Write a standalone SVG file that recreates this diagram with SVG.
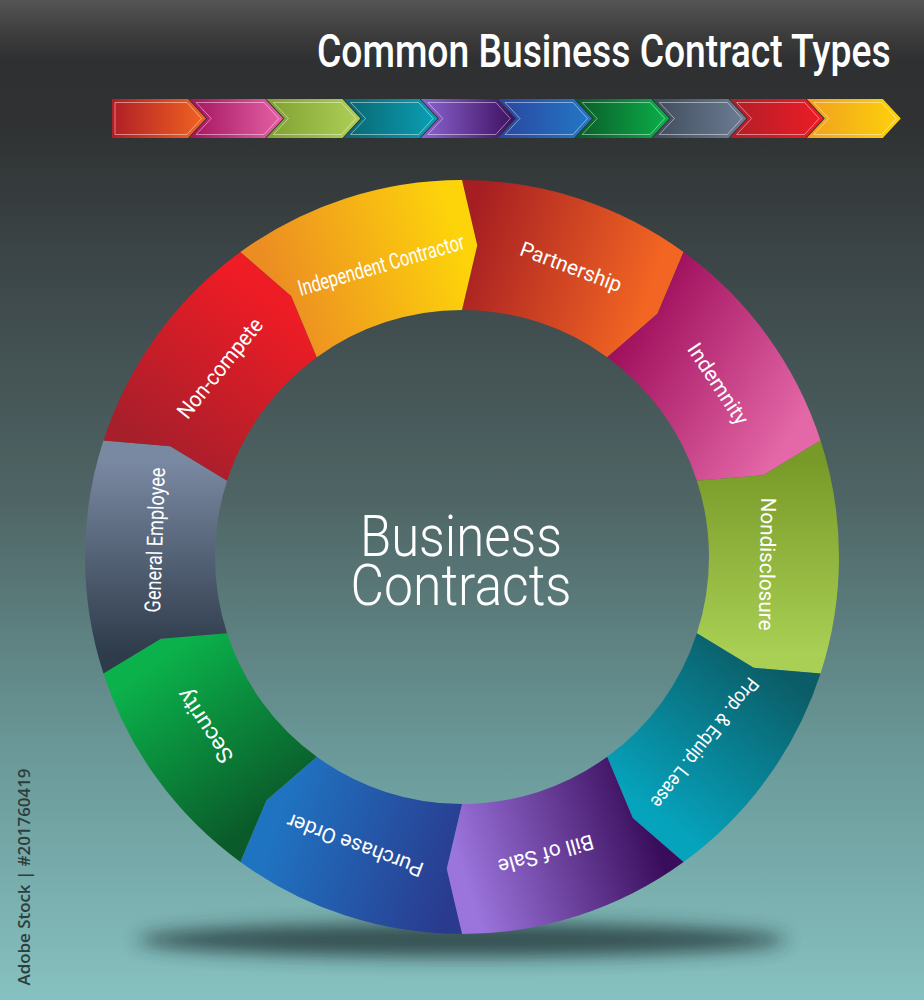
<svg xmlns="http://www.w3.org/2000/svg" width="924" height="1000" viewBox="0 0 924 1000">
<defs>
<linearGradient id="bg" x1="0" y1="0" x2="0" y2="1">
<stop offset="0" stop-color="#555555"/>
<stop offset="0.035" stop-color="#3c3c3c"/>
<stop offset="0.06" stop-color="#2f3031"/>
<stop offset="0.12" stop-color="#2f3132"/>
<stop offset="0.25" stop-color="#3b4446"/>
<stop offset="0.5" stop-color="#4f6565"/>
<stop offset="0.75" stop-color="#6a9898"/>
<stop offset="1" stop-color="#86c1c0"/>
</linearGradient>
<filter id="blur" x="-20%" y="-200%" width="140%" height="500%"><feGaussianBlur stdDeviation="9"/></filter>
<linearGradient id="s0"><stop offset="0" stop-color="#b01e25"/><stop offset="1" stop-color="#f26522"/></linearGradient>
<linearGradient id="s1"><stop offset="0" stop-color="#a3135e"/><stop offset="1" stop-color="#e462a6"/></linearGradient>
<linearGradient id="s2"><stop offset="0" stop-color="#7fa030"/><stop offset="1" stop-color="#aed057"/></linearGradient>
<linearGradient id="s3"><stop offset="0" stop-color="#0a6570"/><stop offset="1" stop-color="#0aa0b5"/></linearGradient>
<linearGradient id="s4"><stop offset="0" stop-color="#8c64d0"/><stop offset="1" stop-color="#3d1060"/></linearGradient>
<linearGradient id="s5"><stop offset="0" stop-color="#2a45a0"/><stop offset="1" stop-color="#2378c6"/></linearGradient>
<linearGradient id="s6"><stop offset="0" stop-color="#0a5a28"/><stop offset="1" stop-color="#0bb04a"/></linearGradient>
<linearGradient id="s7"><stop offset="0" stop-color="#3e4c5c"/><stop offset="1" stop-color="#6d7d94"/></linearGradient>
<linearGradient id="s8"><stop offset="0" stop-color="#b01e28"/><stop offset="1" stop-color="#ee1c25"/></linearGradient>
<linearGradient id="s9"><stop offset="0" stop-color="#f0a020"/><stop offset="1" stop-color="#fdd20a"/></linearGradient>
<linearGradient id="g0" gradientUnits="userSpaceOnUse" x1="462" y1="245" x2="645.39" y2="304.59"><stop offset="0" stop-color="#a61e22"/><stop offset="1" stop-color="#f26522"/></linearGradient>
<linearGradient id="g1" gradientUnits="userSpaceOnUse" x1="620" y1="330" x2="790" y2="440"><stop offset="0" stop-color="#9e0d5a"/><stop offset="1" stop-color="#e468a8"/></linearGradient>
<linearGradient id="g2" gradientUnits="userSpaceOnUse" x1="758.73" y1="460.59" x2="758.73" y2="653.41"><stop offset="0" stop-color="#789a28"/><stop offset="1" stop-color="#a9cf54"/></linearGradient>
<linearGradient id="g3" gradientUnits="userSpaceOnUse" x1="758.73" y1="653.41" x2="645.39" y2="809.41"><stop offset="0" stop-color="#0b5c66"/><stop offset="1" stop-color="#06a3bd"/></linearGradient>
<linearGradient id="g4" gradientUnits="userSpaceOnUse" x1="645.39" y1="809.41" x2="462" y2="869"><stop offset="0" stop-color="#3a0d5c"/><stop offset="1" stop-color="#9b74dc"/></linearGradient>
<linearGradient id="g5" gradientUnits="userSpaceOnUse" x1="462" y1="869" x2="278.61" y2="809.41"><stop offset="0" stop-color="#2a3a8e"/><stop offset="1" stop-color="#1f74c2"/></linearGradient>
<linearGradient id="g6" gradientUnits="userSpaceOnUse" x1="278.61" y1="809.41" x2="165.27" y2="653.41"><stop offset="0" stop-color="#0a5a2a"/><stop offset="1" stop-color="#0bb24b"/></linearGradient>
<linearGradient id="g7" gradientUnits="userSpaceOnUse" x1="165.27" y1="653.41" x2="165.27" y2="460.59"><stop offset="0" stop-color="#2e3b4a"/><stop offset="1" stop-color="#7a89a2"/></linearGradient>
<linearGradient id="g8" gradientUnits="userSpaceOnUse" x1="165.27" y1="460.59" x2="278.61" y2="304.59"><stop offset="0" stop-color="#a61f2b"/><stop offset="1" stop-color="#ee1c25"/></linearGradient>
<linearGradient id="g9" gradientUnits="userSpaceOnUse" x1="278.61" y1="304.59" x2="462" y2="245"><stop offset="0" stop-color="#ec8d23"/><stop offset="1" stop-color="#fdd40a"/></linearGradient>
<path id="chevA" d="M0,99 H76 L94,118.5 L76,138 H0 Z"/>
<path id="chevB" d="M0,99 H76 L94,118.5 L76,138 H0 L18,118.5 Z"/>
</defs>
<style>
.lbl{font-family:Roboto,"Liberation Sans",sans-serif;fill:#ffffff;text-anchor:middle;dominant-baseline:central;}
.out{fill:none;stroke:#ffffff;stroke-opacity:0.45;stroke-width:1;}
.title{font-family:Roboto,"Liberation Sans",sans-serif;font-weight:500;fill:#ffffff;font-size:46px;}
.center{font-family:Roboto,"Liberation Sans",sans-serif;font-weight:300;fill:#ffffff;font-size:57px;text-anchor:middle;}
</style>

<rect x="0" y="0" width="924" height="1000" fill="url(#bg)"/>

<g id="title">
<text class="title" transform="translate(317,67) scale(0.81,1)" x="0" y="0">Common Business Contract Types</text>
</g>

<g id="strip">
<g transform="translate(112,0)"><use href="#chevA" fill="url(#s0)"/><path class="out" d="M3,102.5 H75 L89.5,118.5 L75,134.5 H3 Z"/></g>
<g transform="translate(189.2,0)"><use href="#chevB" fill="url(#s1)"/><path class="out" d="M7,102.5 H75 L89.5,118.5 L75,134.5 H7 L22,118.5 Z"/></g>
<g transform="translate(266.4,0)"><use href="#chevB" fill="url(#s2)"/><path class="out" d="M7,102.5 H75 L89.5,118.5 L75,134.5 H7 L22,118.5 Z"/></g>
<g transform="translate(343.6,0)"><use href="#chevB" fill="url(#s3)"/><path class="out" d="M7,102.5 H75 L89.5,118.5 L75,134.5 H7 L22,118.5 Z"/></g>
<g transform="translate(420.8,0)"><use href="#chevB" fill="url(#s4)"/><path class="out" d="M7,102.5 H75 L89.5,118.5 L75,134.5 H7 L22,118.5 Z"/></g>
<g transform="translate(498,0)"><use href="#chevB" fill="url(#s5)"/><path class="out" d="M7,102.5 H75 L89.5,118.5 L75,134.5 H7 L22,118.5 Z"/></g>
<g transform="translate(575.2,0)"><use href="#chevB" fill="url(#s6)"/><path class="out" d="M7,102.5 H75 L89.5,118.5 L75,134.5 H7 L22,118.5 Z"/></g>
<g transform="translate(652.4,0)"><use href="#chevB" fill="url(#s7)"/><path class="out" d="M7,102.5 H75 L89.5,118.5 L75,134.5 H7 L22,118.5 Z"/></g>
<g transform="translate(729.6,0)"><use href="#chevB" fill="url(#s8)"/><path class="out" d="M7,102.5 H75 L89.5,118.5 L75,134.5 H7 L22,118.5 Z"/></g>
<g transform="translate(806.8,0)"><use href="#chevB" fill="url(#s9)"/><path class="out" d="M7,102.5 H75 L89.5,118.5 L75,134.5 H7 L22,118.5 Z"/></g>
</g>

<ellipse cx="462" cy="940" rx="325" ry="17" fill="#1d2f30" opacity="0.75" filter="url(#blur)"/>

<g id="connectors"></g>

<g id="seg-partnership">
<path fill="url(#g0)" d="M462,180 A377,377 0 0 1 683.59,252 L657.5,313.85 L607.18,357.17 A247,247 0 0 0 462,310 L477.24,245.37 Z"/>
<text class="lbl" font-size="21" transform="translate(571,267) rotate(20.5)" textLength="107" lengthAdjust="spacingAndGlyphs">Partnership</text>
</g>
<g id="seg-indemnity">
<path fill="url(#g1)" d="M683.59,252 A377,377 0 0 1 820.55,440.5 L763.09,475.2 L696.91,480.67 A247,247 0 0 0 607.18,357.17 L657.5,313.85 Z"/>
<text class="lbl" font-size="21" transform="translate(718,384) rotate(56.5)" textLength="93" lengthAdjust="spacingAndGlyphs">Indemnity</text>
</g>
<g id="seg-nondisclosure">
<path fill="url(#g2)" d="M820.55,440.5 A377,377 0 0 1 820.55,673.5 L753.67,667.79 L696.91,633.33 A247,247 0 0 0 696.91,480.67 L763.09,475.2 Z"/>
<text class="lbl" font-size="21" transform="translate(767,564) rotate(91)" textLength="133" lengthAdjust="spacingAndGlyphs">Nondisclosure</text>
</g>
<g id="seg-prop">
<path fill="url(#g3)" d="M820.55,673.5 A377,377 0 0 1 683.59,862 L632.84,818.07 L607.18,756.83 A247,247 0 0 0 696.91,633.33 L753.67,667.79 Z"/>
<text class="lbl" font-size="20" transform="translate(705,743) rotate(128.5)" textLength="160" lengthAdjust="spacingAndGlyphs">Prop. &amp; Equip. Lease</text>
</g>
<g id="seg-billofsale">
<path fill="url(#g4)" d="M683.59,862 A377,377 0 0 1 462,934 L446.76,868.63 L462,804 A247,247 0 0 0 607.18,756.83 L632.84,818.07 Z"/>
<text class="lbl" font-size="21" transform="translate(546,854) rotate(164.5)" textLength="98" lengthAdjust="spacingAndGlyphs">Bill of Sale</text>
</g>
<g id="seg-purchaseorder">
<path fill="url(#g5)" d="M462,934 A377,377 0 0 1 240.41,862 L266.5,800.15 L316.82,756.83 A247,247 0 0 0 462,804 L446.76,868.63 Z"/>
<text class="lbl" font-size="21" transform="translate(355,845) rotate(200.5)" textLength="144" lengthAdjust="spacingAndGlyphs">Purchase Order</text>
</g>
<g id="seg-security">
<path fill="url(#g6)" d="M240.41,862 A377,377 0 0 1 103.45,673.5 L160.91,638.8 L227.09,633.33 A247,247 0 0 0 316.82,756.83 L266.5,800.15 Z"/>
<text class="lbl" font-size="22" transform="translate(205,726) rotate(236.5)" textLength="84" lengthAdjust="spacingAndGlyphs">Security</text>
</g>
<g id="seg-generalemployee">
<path fill="url(#g7)" d="M103.45,673.5 A377,377 0 0 1 103.45,440.5 L170.33,446.21 L227.09,480.67 A247,247 0 0 0 227.09,633.33 L160.91,638.8 Z"/>
<text class="lbl" font-size="22" transform="translate(155,540) rotate(-88)" textLength="145" lengthAdjust="spacingAndGlyphs">General Employee</text>
</g>
<g id="seg-noncompete">
<path fill="url(#g8)" d="M103.45,440.5 A377,377 0 0 1 240.41,252 L291.16,295.93 L316.82,357.17 A247,247 0 0 0 227.09,480.67 L170.33,446.21 Z"/>
<text class="lbl" font-size="22" transform="translate(220,368) rotate(-51)" textLength="122" lengthAdjust="spacingAndGlyphs">Non-compete</text>
</g>
<g id="seg-independentcontractor">
<path fill="url(#g9)" d="M240.41,252 A377,377 0 0 1 462,180 L477.24,245.37 L462,310 A247,247 0 0 0 316.82,357.17 L291.16,295.93 Z"/>
<text class="lbl" font-size="22" transform="translate(381,265) rotate(-16)" textLength="172" lengthAdjust="spacingAndGlyphs">Independent Contractor</text>
</g>

<g id="center">
<text class="center"><tspan x="461" y="556" textLength="202" lengthAdjust="spacingAndGlyphs">Business</tspan><tspan x="461" y="605" textLength="221" lengthAdjust="spacingAndGlyphs">Contracts</tspan></text>
</g>

<text transform="translate(23,877) rotate(-90)" font-family="'Open Sans','Liberation Sans',sans-serif" font-weight="600" font-size="17" fill="#2e3d3d" text-anchor="middle" dominant-baseline="central" textLength="217" lengthAdjust="spacingAndGlyphs">Adobe Stock | #201760419</text>
</svg>
